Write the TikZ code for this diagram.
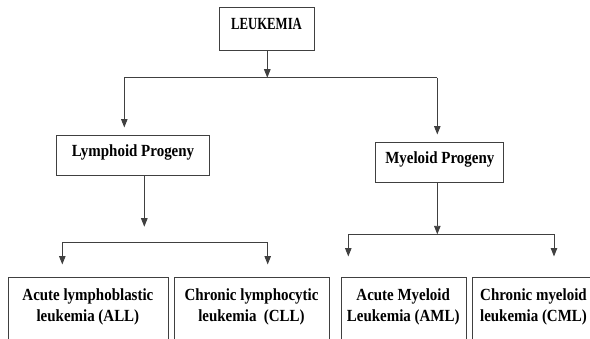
\documentclass[tikz,border=0pt]{standalone}
\usepackage{fontspec}
\setmainfont{Liberation Serif}[FakeStretch=0.88]
\newfontfamily\capsfont{Liberation Serif}[FakeStretch=0.75]
\usetikzlibrary{arrows.meta}
\begin{document}
\begin{tikzpicture}[x=1pt,y=-1pt,
  box/.style={draw=black!75,line width=1pt,rectangle,inner sep=0pt},
  txt/.style={font=\fontsize{17}{21.3}\selectfont\bfseries,align=center,inner sep=0pt,text=black},
  conn/.style={draw=black!75,line width=0.9pt},
  arr/.style={conn,-{Triangle[width=6.5pt,length=8.5pt]}}]
\useasboundingbox (0,0) rectangle (590,338);
\clip (0,0) rectangle (590,338);
% boxes
\node[box,minimum width=95pt,minimum height=42.7pt] (leuk) at (266.5,28.7) {};
\node[txt,font=\fontsize{17}{21.3}\selectfont\bfseries\capsfont] (leukT) at (266.5,24) {LEUKEMIA};
\node[box,minimum width=152.6pt,minimum height=40.3pt] (lym) at (133,155.8) {};
\node[txt] (lymT) at (133,152) {Lymphoid Progeny};
\node[box,minimum width=128.3pt,minimum height=40pt] (mye) at (439.8,162.7) {};
\node[txt] (myeT) at (439.8,159.5) {Myeloid Progeny};
\node[box,minimum width=159.2pt,minimum height=80pt,anchor=north west] (all) at (8.3,277) {};
\node[txt] (allT) at (87.9,307) {Acute lymphoblastic\\leukemia (ALL)};
\node[box,minimum width=155pt,minimum height=80pt,anchor=north west] (cll) at (174,277) {};
\node[txt] (cllT) at (251.5,307) {Chronic lymphocytic\\leukemia\ \ (CLL)};
\node[box,minimum width=125pt,minimum height=80pt,anchor=north west] (aml) at (340.7,277) {};
\node[txt] (amlT) at (403.2,307) {Acute Myeloid\\Leukemia (AML)};
\node[box,minimum width=125pt,minimum height=80pt,anchor=north west] (cml) at (472.3,277) {};
\node[txt] (cmlT) at (533.5,307) {Chronic myeloid\\leukemia (CML)};
% junction coordinates
\coordinate (j0) at (267.3,77.7);
\coordinate (jl) at (124.3,77.7);
\coordinate (jr) at (437.3,77.7);
\coordinate (tl) at (124.3,127.5);
\coordinate (tr) at (437.3,134.5);
\coordinate (lymTip) at (144.3,226.7);
\coordinate (bl1) at (62.3,242.7);
\coordinate (bl2) at (267.7,242.7);
\coordinate (tAll) at (62.3,264.5);
\coordinate (tCll) at (267.7,264.5);
\coordinate (j2) at (437.3,234.3);
\coordinate (br1) at (348.3,234.3);
\coordinate (br2) at (554,234.3);
\coordinate (tAml) at (348.3,256.5);
\coordinate (tCml) at (554,256.5);
% connectors
\draw[arr] (leuk.south -| j0) -- (j0);
\draw[conn] (jl) -- (jr);
\draw[arr] (jl) -- (tl);
\draw[arr] (jr) -- (tr);
\draw[arr] (lym.south -| lymTip) -- (lymTip);
\draw[conn] (bl1) -- (bl2);
\draw[arr] (bl1) -- (tAll);
\draw[arr] (bl2) -- (tCll);
\draw[arr] (mye.south -| j2) -- (j2);
\draw[conn] (br1) -- (br2);
\draw[arr] (br1) -- (tAml);
\draw[arr] (br2) -- (tCml);
\end{tikzpicture}
\end{document}
